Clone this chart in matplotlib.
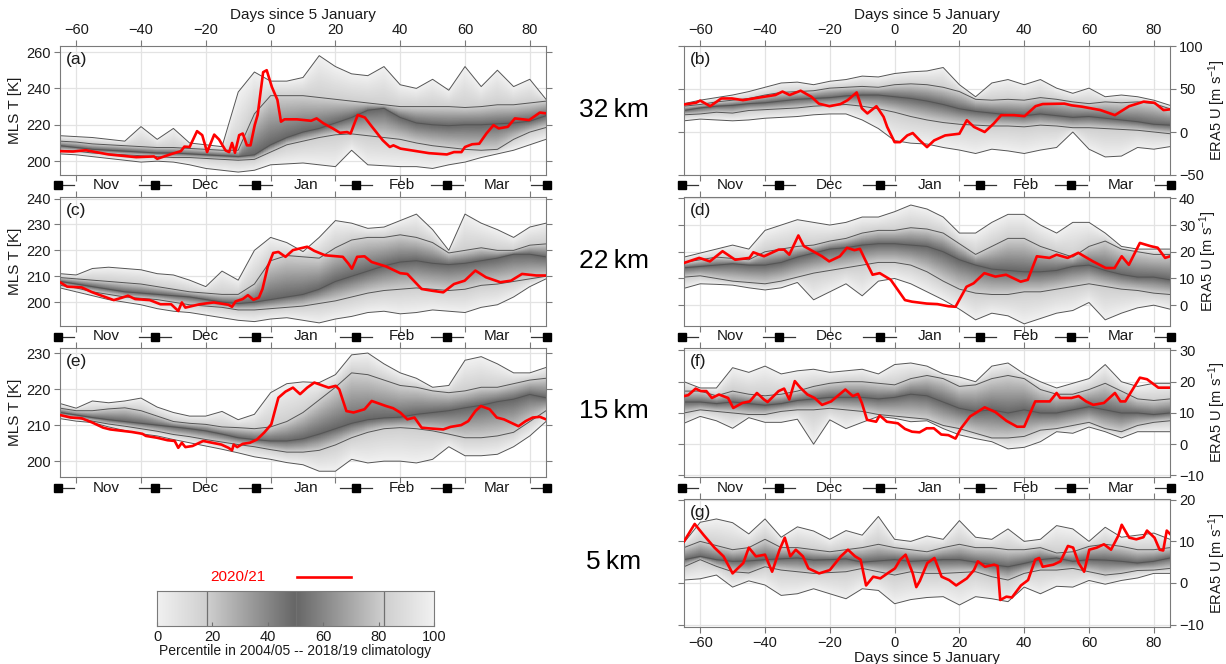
import numpy as np
import matplotlib
matplotlib.use("Agg")
import matplotlib.pyplot as plt
import matplotlib.transforms as mtransforms
from matplotlib.colors import LinearSegmentedColormap
from matplotlib.lines import Line2D

plt.rcParams['font.family'] = ['Liberation Sans', 'DejaVu Sans']
plt.rcParams['mathtext.default'] = 'regular'

# ---------------- data ----------------
DAYS = list(range(-65, 86, 5))   # climatology sample days (days since 5 January)

# (a) MLS T, 32 km  -- climatological min / 18th / 50th / 82nd percentile / max
a_min = [204, 203.5, 202.5, 201.5, 200.5, 199.5, 200, 199.5, 198, 196, 195, 194, 195, 198, 198.5, 199, 198, 197, 206, 198, 197.5, 197, 197, 196, 198, 199.5, 202, 204, 206, 209, 212]
a_lo = [206, 205.5, 204.5, 204, 203.5, 203, 202.5, 202, 202, 201.5, 201, 200.5, 201, 205, 209, 211, 213, 214.5, 215, 214, 213, 212, 210, 208.5, 207.5, 206.5, 206, 206.5, 212, 216, 218.5]
a_med = [208.5, 207.5, 206.5, 206, 205.5, 205, 204.5, 204.5, 204, 203.5, 203, 202.5, 203.5, 209, 213, 216, 218, 221, 224, 228, 229, 224, 221, 220, 219.5, 220, 220, 220.5, 221, 222, 225]
a_up = [211, 210.5, 209.5, 209, 208.5, 208, 207.5, 207.5, 207, 206.5, 206, 206, 226, 236, 236, 236, 235, 234, 233, 232, 231, 230, 230, 230, 230, 229.5, 230, 231, 231, 232, 233]
a_max = [214, 213.5, 213, 212, 211, 219, 212, 218, 210, 209, 208, 238, 249, 244, 244, 246, 258, 252, 248, 247, 252, 242, 240, 245, 239, 252, 241, 250, 241, 245, 234]
a_rd = [-65, -61, -57, -50, -41.5, -36, -35, -30.5, -27.7, -26.6, -25, -22.7, -21.1, -19.6, -17.4, -15.9, -13.9, -12.8, -11.9, -11, -9.7, -8.6, -7.3, -6.2, -4.9, -4, -2.3, -1.2, 0.4, 2.1, 3.2, 4.3, 8.1, 12.5, 14.2, 16.4, 19.2, 21.4, 23.6, 24.7, 25.8, 26.9, 29.1, 31.3, 34.6, 36.8, 37.9, 40.1, 48.9, 54.4, 56.6, 58.9, 60, 62.2, 64.4, 66.6, 68.8, 70.4, 73.2, 75.4, 79.8, 83.1, 85]
a_rv = [205.5, 205.3, 206, 203.7, 202.2, 202.6, 201.3, 204, 205.5, 208, 207.8, 216.5, 214.3, 205, 214.6, 211.9, 205.9, 205, 210, 204.6, 214.3, 215.2, 208.7, 208.7, 219.8, 225.4, 248.9, 250, 240.7, 233.7, 221.7, 223, 223, 222.2, 223.5, 220.7, 218, 215.6, 216, 215.2, 220.4, 225.4, 224, 218.9, 211.5, 207.8, 208.7, 206.9, 204.4, 203.7, 205, 205, 207.8, 209.3, 209.6, 215.2, 219.8, 218, 218.9, 223.5, 222.6, 226.7, 226.3]

# (b) ERA5 U, 32 km
b_min = [13, 15, 14, 13, 14, 16, 17, 18, 20, 21, 21, 14, 4, -10, -13, -14, -18, -21, -25, -20, -22, -25, -21, -18, 0, -20, -29, -28, -18, -20, -17]
b_lo = [20, 21, 23, 22, 25, 26, 27, 28, 30, 31, 32, 30, 27, 23, 18, 14, 11, 9, 8, 7, 7, 6, 8, 7, 5, 5, 4, 3, 2, 0, -2]
b_med = [25, 28, 30, 31, 33, 34, 36, 38, 39, 40, 42, 43, 43, 41, 39, 36, 32, 27, 24, 22, 20, 19, 21, 19, 17, 18, 16, 14, 12, 9, 8]
b_up = [30, 32, 35, 37, 39, 43, 46, 47, 48, 51, 52, 53, 52, 55, 56, 55, 52, 47, 38, 37, 38, 37, 40, 38, 35, 33, 35, 34, 35, 33, 27]
b_max = [33, 37, 40, 43, 47, 52, 57, 58, 55, 59, 61, 65, 64, 68, 70, 71, 75, 55, 41, 57, 61, 55, 61, 51, 45, 51, 41, 43, 41, 37, 31]
b_rd = [-65, -61.3, -60, -56.9, -53.5, -50.2, -46.8, -43.5, -40.2, -36.8, -34.6, -32.4, -29, -25.7, -23.4, -20.1, -16.7, -14.5, -11.7, -10.1, -8.4, -5.6, -3.4, -2.3, 0, 1.7, 3.9, 5.6, 7.8, 10, 12.2, 15.6, 20, 22.3, 24.5, 27.8, 30.6, 32.9, 36.8, 40.1, 43.5, 45.7, 52.4, 54.6, 57.9, 63.5, 68, 72.4, 76.9, 80.2, 83, 85]
b_rv = [32, 34, 36.5, 30, 39, 39, 37, 39, 41, 43, 47, 43, 48, 41, 33, 30, 32.5, 37, 46, 27.5, 21.6, 30, 17.6, 6, -11.8, -11.8, -4, -1.2, -9.8, -17.6, -9.8, -4, -2, 13.7, 5.9, 0, 9.8, 19.6, 19.6, 18.4, 30, 32.5, 33, 31, 29.4, 25.5, 19.6, 30, 35.3, 34, 25.5, 26.3]

# (c) MLS T, 22 km
c_min = [205.5, 204, 202.5, 201, 200, 199, 197.5, 196.5, 196, 195, 194, 193, 192.5, 193.5, 194, 193, 192, 193.5, 194.5, 196, 196.5, 195.5, 196, 197, 196.5, 196, 198, 199, 202, 206, 209]
c_lo = [206.5, 205.5, 204, 203, 202, 201.5, 201, 200, 199, 198.5, 198, 197, 197, 197.5, 198, 198.5, 199.5, 200.5, 202, 203.5, 204.5, 205, 205.5, 205, 204.5, 205, 206.5, 207, 208, 209, 210]
c_med = [208, 207, 206, 205, 204, 203.5, 203, 202.5, 202, 201, 200, 199.5, 200, 201, 202, 203, 205, 208, 210, 212, 214, 215.5, 216, 215, 214.5, 215, 216, 217, 218.5, 218.5, 217.5]
c_up = [209.5, 209, 208.5, 208, 207.5, 207, 206, 205, 204, 203.5, 203, 203, 207, 216, 218, 217.5, 217, 221, 224, 225, 225, 226, 225, 223, 219, 220, 221, 220, 220, 222, 222.5]
c_max = [211, 210.5, 213, 213.5, 213, 212.5, 211, 210.5, 208.5, 206, 212, 208.5, 220, 225, 223, 219.5, 225, 231.5, 230.5, 228.5, 229, 231.5, 234, 228, 220, 234, 230.5, 228, 225, 229, 230.5]
c_rd = [-65, -62.8, -58.3, -55, -50.6, -48.4, -46.2, -44, -41.8, -37.3, -34, -30.7, -28.5, -27.4, -26.3, -21.9, -17.5, -13, -11.9, -10.8, -8.6, -7, -5.3, -3.6, -2.5, -0.9, 0.8, 2.4, 4.6, 6.9, 11.3, 13.5, 16.8, 22.3, 24, 25.1, 26.7, 29, 31.2, 35.6, 40, 42.2, 46.6, 49.9, 53.3, 56.6, 59.9, 63.2, 66.5, 70.9, 74.2, 77.6, 82, 85]
c_rv = [207.7, 206, 205.7, 203.8, 201.8, 200.8, 201.6, 202.5, 201.2, 200.8, 199.2, 199.2, 196.6, 199.9, 197.9, 199.2, 199.9, 199, 198.2, 200.3, 201.2, 202.7, 200.9, 201.8, 205.1, 213.6, 219, 219.4, 217.5, 220.1, 221.4, 219.8, 218.1, 217.5, 214.9, 212.9, 217.5, 217.7, 215.5, 213.8, 211.2, 210.9, 205.1, 204.4, 203.8, 207, 208.3, 212.2, 209.6, 207.7, 208.3, 210.9, 210.3, 210.3]

# (d) ERA5 U, 22 km
d_min = [6.3, 8, 7.8, 7.5, 6.5, 5.7, 6.5, 8.5, 2, 5, 8, 3.5, 9, 10, 8, 5, 2, -1.5, -5.5, -3, -4, -7, -5, -3, -2, 1, -5.5, -3, -1, 0, -1.5]
d_lo = [10.5, 11, 10, 9, 8.5, 8, 9, 10.5, 12, 13, 14, 15, 16, 16, 15, 12.5, 9, 6, 4.5, 4, 4, 5, 5, 6, 7, 8, 7, 6, 5.5, 4.5, 4]
d_med = [14, 14.5, 15, 15.5, 15, 15, 16, 18, 19.5, 21, 21.5, 22.5, 23, 23, 22.5, 22, 20, 17, 15, 13.5, 13, 12.5, 12.5, 13, 14.5, 15, 13, 11.5, 10.5, 10.5, 9.5]
d_up = [16, 17, 18, 17.5, 17, 20, 21, 22, 22.5, 24, 25, 27, 28, 28, 29, 28.5, 27, 23, 19, 22, 25, 25, 22, 20, 18, 22, 24, 21, 20, 19, 19]
d_max = [18, 19.5, 21, 22.5, 21, 28, 30, 32, 31, 30, 31, 33, 33, 35, 37.5, 36, 33, 27, 27, 31, 34, 34, 30, 27, 31, 31, 27, 22, 21, 21, 21]
d_rd = [-65, -60.3, -57, -53.1, -49.2, -44.8, -43.6, -40.3, -35.8, -34.1, -32.5, -29.7, -28, -25.8, -22.4, -20.2, -16.9, -14.7, -12.4, -10.7, -9.1, -6.8, -4.6, -1.2, 3.2, 5.4, 9.9, 13.2, 16.6, 18.8, 22.2, 24.4, 27.7, 31.1, 34.4, 38.9, 41.1, 43.9, 47.8, 50, 53.4, 56.7, 61.2, 65.2, 67.9, 70.1, 72.3, 75.7, 79, 81.2, 83.5, 85]
d_rv = [15.8, 17.7, 16.4, 20.2, 17, 17.7, 19.8, 18.3, 20.8, 20.8, 18.9, 26.1, 22.1, 20.6, 18.3, 16.4, 18.3, 21.5, 20.6, 21.1, 17, 11.4, 12, 9.5, 1.9, 1.3, 0.6, 0.4, -0.4, -0.6, 6.9, 8.2, 12, 10.7, 11.4, 8.8, 9.5, 18.3, 17.7, 18.9, 17.7, 19.6, 16.4, 13.9, 13.9, 18.3, 15.1, 23.3, 22.1, 21.5, 17.7, 18.3]

# (e) MLS T, 15 km
e_min = [211.8, 211.1, 210.7, 209.5, 208.5, 207.6, 207, 206, 205.1, 204.2, 203.3, 202.3, 201.2, 200.5, 199.6, 199, 197.2, 197.2, 200.5, 199.5, 200, 200, 199.5, 200.5, 204, 201.5, 201.5, 201.9, 204, 207, 211]
e_lo = [212.8, 212, 211.1, 210.3, 209.7, 209, 208.3, 207.4, 206.8, 206, 205.3, 204.6, 204, 203.2, 202.5, 202.5, 203, 204.5, 206.5, 208, 209, 209.3, 209, 208.4, 207.5, 206.5, 206.5, 207, 208, 211, 214]
e_med = [213.5, 212.8, 212.1, 211.5, 211, 210.5, 210, 209.5, 209, 208.4, 207.5, 206.5, 206, 205.6, 205.6, 206.2, 207.5, 209, 210.5, 211.5, 212, 212.2, 213, 213.5, 214, 214.8, 215.5, 216.5, 217.2, 218.5, 217.6]
e_up = [214.7, 214, 214, 214.5, 214.8, 214, 212.5, 211, 210.5, 210.2, 209.5, 209.3, 209, 209.5, 211, 213.5, 217, 220.5, 224.5, 224, 222.5, 221, 220.5, 219.5, 219, 219.5, 220.5, 220.5, 221.5, 222.5, 223]
e_max = [216, 214.7, 216.7, 216.2, 216.7, 217.5, 215, 213.5, 212.5, 212.5, 213.8, 211.5, 213, 219, 221.5, 222, 221.8, 224, 229.5, 230, 227, 224.5, 223, 220.5, 221, 228, 229, 227, 224.5, 224.5, 226]
e_rd = [-65, -61.7, -58.3, -55, -51.7, -49.5, -42.9, -39.6, -38.5, -35.1, -31.8, -29.6, -28.5, -27.4, -26.3, -24.1, -20.8, -15.2, -13, -11.9, -11.4, -10.3, -8.6, -6.4, -4.2, -2, 0.2, 2.4, 4.6, 6.9, 9.1, 11.3, 13.5, 17.9, 20.1, 21.2, 23.4, 25.6, 29, 31.2, 33.4, 35.6, 37.8, 40, 42.2, 44.4, 46.6, 48.8, 53.3, 55.5, 58.8, 61, 63.2, 64.9, 67.6, 69.8, 72, 76.5, 78.7, 80.9, 83.1, 85]
e_rv = [212.8, 212.1, 211.9, 210.7, 209.3, 208.8, 208.1, 207.6, 207, 206.5, 205.8, 205.6, 203.7, 205.1, 203.9, 204.2, 205.6, 204.6, 203.7, 203, 204.6, 203.9, 204.8, 205.1, 206, 207.9, 210.2, 217.6, 219.3, 220.4, 218.6, 220.4, 221.8, 220.4, 220.9, 219.9, 213.9, 213.5, 214.4, 216.7, 216, 215.3, 214.7, 213.5, 211.6, 212.1, 209.3, 209.1, 208.8, 209.5, 210, 211.1, 213.9, 215.3, 214.4, 212.1, 211.6, 209.7, 211.1, 212.1, 212.3, 211.6]

# (f) ERA5 U, 15 km
f_min = [6.7, 8.9, 7.5, 5.1, 8.5, 7, 7, 8, 0, 7.8, 5, 7, 8.9, 8.3, 7.2, 7.5, 5, 3, 1.8, 0.8, -1.5, -1, 0.8, 4, 3.5, 5.5, 4, 2, 4, 4, 4]
f_lo = [10, 11, 10.5, 10, 9.5, 9.5, 10.5, 11, 11, 11.5, 11, 10.5, 9.5, 9, 8.5, 8, 6, 5, 3.5, 2, 2, 2.5, 4.5, 5, 6, 7, 5, 4, 6, 7, 7.5]
f_med = [13.5, 13.5, 13, 13.5, 13, 12.5, 13, 14, 14.5, 15, 15, 15, 14.5, 15, 16, 15.5, 13.5, 11.5, 10.5, 11, 10, 11, 10, 10, 11, 12, 11, 10, 10, 9.5, 10]
f_up = [17, 17, 15.5, 17, 16, 15.5, 16, 17, 18.5, 19.5, 20, 20, 19.5, 19, 21, 22, 21, 18.5, 19, 21, 22, 21, 17.5, 16, 16, 17.5, 19.5, 17, 14.5, 14, 14.5]
f_max = [20, 18, 18, 24.5, 23, 25, 22.5, 23.5, 24, 23, 23.5, 24, 22.5, 25.5, 26, 25, 22.5, 21.5, 20, 25, 26, 22.5, 20, 18, 19.5, 21, 25.5, 20, 18.5, 19.5, 19.5]
f_rd = [-65, -63.7, -61.4, -59.8, -58.1, -56.4, -54.2, -51.4, -49.8, -47, -44.7, -42.5, -40.3, -39.2, -35.8, -34.1, -32.5, -30.8, -29.1, -26.9, -24.7, -22.4, -19.6, -15.2, -12.9, -11.3, -10.1, -8.5, -5.7, -4.6, -2.4, 1, 3.2, 5.4, 7.7, 9.9, 12.1, 14.4, 16.6, 18.8, 20.5, 23.3, 25.5, 27.8, 31.1, 34.5, 37.8, 40, 43.4, 45.7, 47.9, 50, 51.1, 54.6, 56.8, 59.1, 61.3, 64.6, 68, 69.7, 71.2, 75.7, 77.9, 81.4, 85]
f_rv = [15.4, 15.7, 17.8, 17, 17, 14.8, 15.9, 14.8, 11.6, 13.2, 13.7, 16.4, 14.3, 13.5, 17, 17.8, 14.3, 20.2, 18.1, 15.9, 14.8, 12.6, 13.7, 17.5, 15.4, 16.1, 13.2, 7.8, 7.2, 9.2, 7.2, 6.7, 4.9, 4, 3.8, 5.1, 5.1, 3.1, 2.9, 1.8, 5.1, 8.9, 10.3, 11.8, 10.3, 7.5, 5.6, 5.6, 13.7, 13.7, 13.7, 16.4, 14.8, 14.8, 15.4, 13.7, 12.6, 13.2, 16.4, 13.7, 13.7, 21.3, 20.8, 18.1, 18.1]

# (g) ERA5 U, 5 km
g_min = [0.7, 1, 1.9, -1, 0.5, -0.5, -3, -2.6, -1.4, -2.6, -3.8, -1.4, -1.8, -5, -4, -3.5, -3.3, -5.3, -3.3, -3.8, -4.5, -1, -2.6, -0.8, -1, 0.6, -0.3, 0.6, 1.2, 2.3, 2.3]
g_lo = [3.9, 5.6, 4, 2.7, 2.4, 3.9, 3.1, 2.7, 2.3, 2.5, 2.7, 3.5, 2.7, 1.9, 2.7, 2.3, 2.3, 2.5, 2.7, 1.5, 0.7, 2.3, 3.1, 3.1, 3.5, 2.7, 1.9, 2.3, 3, 3.1, 3.5]
g_med = [5.6, 6.4, 5.6, 5.2, 5.3, 5.6, 5.8, 6, 5.5, 5.6, 5.8, 5, 5.3, 5.6, 5.2, 5.4, 5.6, 5.6, 5, 4.4, 3.9, 4.7, 5.6, 6, 5.2, 5.6, 5.5, 5.2, 4.8, 5.2, 6]
g_up = [8.5, 10, 9, 8, 8.5, 10.5, 8.5, 8.5, 8, 7.5, 8, 8.5, 9.3, 8.5, 8, 7.5, 8.5, 9.3, 8.5, 8.5, 8, 8, 8.5, 7.2, 7.5, 8.8, 9.3, 8.8, 8, 8, 8.5]
g_max = [9.7, 14.6, 15.4, 14.5, 11.8, 15.4, 11, 13.5, 12.5, 10.5, 12.6, 11.5, 16, 10.5, 10, 11.3, 10.5, 15, 11, 10.5, 13, 10, 10.5, 13.8, 13, 10, 13.4, 11, 11.5, 12, 10.5]
g_rd = [-65, -61.7, -58.9, -55.6, -52.8, -50, -46.7, -45, -42.8, -40, -37.8, -35.5, -33.9, -32.2, -30.5, -28.3, -26.6, -23.3, -20, -16.6, -14.4, -12.2, -10.5, -8.8, -6.6, -4.4, -2.2, 0.1, 1.7, 3.4, 5.6, 6.7, 7.8, 10.1, 12.3, 14.5, 16.8, 19, 22.3, 24.5, 25.7, 27.9, 30.7, 31.8, 32.6, 34.5, 36.2, 39, 41.2, 43.4, 44.6, 45.7, 49, 51.2, 53.5, 55.1, 56.8, 58.5, 60.1, 62.4, 64.6, 66.8, 69, 70.1, 72.4, 74.6, 76.8, 77.9, 80.2, 81.8, 82.9, 84, 85]
g_rv = [10, 14.2, 11.5, 8.5, 6.4, 2.3, 4.8, 8.5, 6.4, 6.8, 2.7, 8, 10.9, 6.4, 8, 6.4, 3.5, 2.3, 3.1, 6.4, 8, 6.4, 5.6, -0.6, 1.5, 1.1, 2.3, 3.5, 5.6, 6.8, 2.3, -1, 0.5, 4.8, 6, 1.5, 0.7, -0.6, 1.1, 3.1, 5.2, 3.9, 4.4, 4.1, -4.1, -3.3, -3.5, -0.6, 0.7, 5.6, 6, 3.9, 4.4, 5.2, 8.9, 8.5, 4.8, 2.7, 8, 8.5, 9.3, 8, 11.3, 14, 10.9, 10.5, 11, 12.6, 10.9, 8, 7.8, 12.6, 11.8]

MONTHS = ['Nov', 'Dec', 'Jan', 'Feb', 'Mar']
MONTH_START = [-65, -35, -4, 27, 55, 86]
XTICKS = [-60, -40, -20, 0, 20, 40, 60, 80]
PCT_LEVELS = [0, 18, 50, 82, 100]
CBAR_TICKS = [0, 20, 40, 60, 80, 100]
HEIGHTS = ['32\u2009km', '22\u2009km', '15\u2009km', '5\u2009km']
LEGEND_YEAR = '2020/21'

# ---------------- drawing ----------------
W, H = 1226, 664
XMIN, XMAX = -65, 85
SPINE = '#7a7a7a'
TXT = '#1a1a1a'

fig = plt.figure(figsize=(W / 100, H / 100), dpi=100)


def rect(x0, y0, x1, y1):
    return [x0 / W, 1 - y1 / H, (x1 - x0) / W, (y1 - y0) / H]


cmap = LinearSegmentedColormap.from_list(
    'pct', [(0.0, '#f1f1f1'), (0.18, '#cfcfcf'), (0.5, '#666666'),
            (0.82, '#cfcfcf'), (1.0, '#f1f1f1')])
cmap.set_bad((1, 1, 1, 0))


def shade(ax, clim, ylim):
    xf = np.linspace(XMIN, XMAX, 751)
    yf = np.linspace(ylim[0], ylim[1], 500)
    curves = np.array([np.interp(xf, DAYS, c) for c in clim])
    img = np.full((yf.size, xf.size), np.nan)
    for j in range(xf.size):
        col = np.maximum.accumulate(curves[:, j]) + np.arange(5) * 1e-6
        img[:, j] = np.interp(yf, col, PCT_LEVELS, left=np.nan, right=np.nan)
    ax.imshow(np.ma.masked_invalid(img), origin='lower',
              extent=[XMIN, XMAX, ylim[0], ylim[1]], aspect='auto',
              cmap=cmap, vmin=0, vmax=100, interpolation='nearest', zorder=1)


def month_row(ax, hpx):
    tr = mtransforms.blended_transform_factory(ax.transData, ax.transAxes)
    yrow = -10.5 / hpx
    for b in MONTH_START:
        bx = b - 0.6
        x0 = max(bx - 5, XMIN - 1)
        x1 = min(bx + 5, XMAX + 1)
        ax.plot([x0, x1], [yrow, yrow], color='#333333', lw=0.9,
                transform=tr, clip_on=False, zorder=6)
        ax.plot([bx], [yrow], marker='s', ms=6.3, color='black',
                transform=tr, clip_on=False, zorder=7)
    for i, m in enumerate(MONTHS):
        mid = (MONTH_START[i] + MONTH_START[i + 1]) / 2 - 0.6
        ax.text(mid, yrow, m, transform=tr, ha='center', va='center',
                fontsize=11, color=TXT)


panels = [
    ('(a)', (60, 46, 546, 175), (192.4, 263.3), [200, 220, 240, 260],
     [a_min, a_lo, a_med, a_up, a_max], a_rd, a_rv, 'left', 'top', True),
    ('(c)', (60, 197, 546, 326), (190.8, 240.6), [200, 210, 220, 230, 240],
     [c_min, c_lo, c_med, c_up, c_max], c_rd, c_rv, 'left', None, True),
    ('(e)', (60, 348, 546, 477), (195.6, 231.4), [200, 210, 220, 230],
     [e_min, e_lo, e_med, e_up, e_max], e_rd, e_rv, 'left', None, True),
    ('(b)', (684, 46, 1170, 175), (-50, 100), [-50, 0, 50, 100],
     [b_min, b_lo, b_med, b_up, b_max], b_rd, b_rv, 'right', 'top', True),
    ('(d)', (684, 197, 1170, 326), (-7.8, 40.5), [0, 10, 20, 30, 40],
     [d_min, d_lo, d_med, d_up, d_max], d_rd, d_rv, 'right', None, True),
    ('(f)', (684, 348, 1170, 477), (-10.5, 30.8), [-10, 0, 10, 20, 30],
     [f_min, f_lo, f_med, f_up, f_max], f_rd, f_rv, 'right', None, True),
    ('(g)', (684, 499, 1170, 627), (-10.6, 20.2), [-10, 0, 10, 20],
     [g_min, g_lo, g_med, g_up, g_max], g_rd, g_rv, 'right', 'bottom', False),
]

for letter, r, ylim, yt, clim, rd, rv, side, xl, mrow in panels:
    ax = fig.add_axes(rect(*r))
    ax.set_axisbelow(True)
    ax.grid(True, color='#e3e3e3', lw=0.9)
    shade(ax, clim, ylim)
    for c in clim:
        ax.plot(DAYS, c, color='#555555', lw=0.7, zorder=2)
    ax.plot(rd, rv, color='#ff0000', lw=1.9, zorder=3, solid_joinstyle='round')
    ax.set_xlim(XMIN, XMAX)
    ax.set_ylim(*ylim)
    ax.set_xticks(XTICKS)
    ax.set_yticks(yt)
    for s in ax.spines.values():
        s.set_color(SPINE)
        s.set_linewidth(0.8)
    ax.tick_params(which='both', direction='out', length=4, width=0.8,
                   color=SPINE, labelsize=10.5, labelcolor=TXT, pad=2.5,
                   top=True, bottom=True, left=True, right=True,
                   labeltop=(xl == 'top'), labelbottom=(xl == 'bottom'),
                   labelleft=(side == 'left'), labelright=(side == 'right'))
    if xl == 'top':
        ax.xaxis.set_label_position('top')
        ax.set_xlabel('Days since 5 January', fontsize=11, labelpad=3, color=TXT)
    elif xl == 'bottom':
        ax.set_xlabel('Days since 5 January', fontsize=11, labelpad=1, color=TXT)
    if side == 'left':
        ax.set_ylabel('MLS T [K]', fontsize=11, color=TXT, labelpad=3)
    else:
        ax.yaxis.set_label_position('right')
        ax.set_ylabel('ERA5 U [m s$^{-1}$]', fontsize=10.5, color=TXT, labelpad=1.5)
    ax.text(0.012, 0.955, letter, transform=ax.transAxes, ha='left', va='top',
            fontsize=12.5, color=TXT, zorder=8)
    if mrow:
        month_row(ax, r[3] - r[1])

for lab, yc in zip(HEIGHTS, [110, 261, 411, 562]):
    fig.text(614 / W, 1 - yc / H, lab, ha='center', va='center',
             fontsize=19, color='black')

# legend
fig.text(238 / W, 1 - 577 / H, LEGEND_YEAR, color='red', ha='center',
         va='center', fontsize=11)
fig.add_artist(Line2D([297 / W, 351 / W], [1 - 577 / H, 1 - 577 / H],
                      color='red', lw=1.9, transform=fig.transFigure))

cax = fig.add_axes(rect(157, 591, 434, 626))
grad = np.linspace(0, 100, 512)[None, :]
cax.imshow(grad, extent=[0, 100, 0, 1], aspect='auto', cmap=cmap,
           vmin=0, vmax=100, interpolation='bilinear')
for p in PCT_LEVELS[1:-1]:
    cax.axvline(p, color='#707070', lw=0.9)
cax.set_xlim(0, 100)
cax.set_ylim(0, 1)
cax.set_yticks([])
cax.set_xticks(CBAR_TICKS)
for s in cax.spines.values():
    s.set_color(SPINE)
    s.set_linewidth(0.8)
cax.tick_params(axis='x', direction='in', length=3, width=0.8, color='#707070',
                labelsize=10.5, labelcolor=TXT, pad=3)
cax.set_xlabel('Percentile in 2004/05 -- 2018/19 climatology', fontsize=10,
               labelpad=0, color=TXT)

fig.savefig('out.png', dpi=100)
